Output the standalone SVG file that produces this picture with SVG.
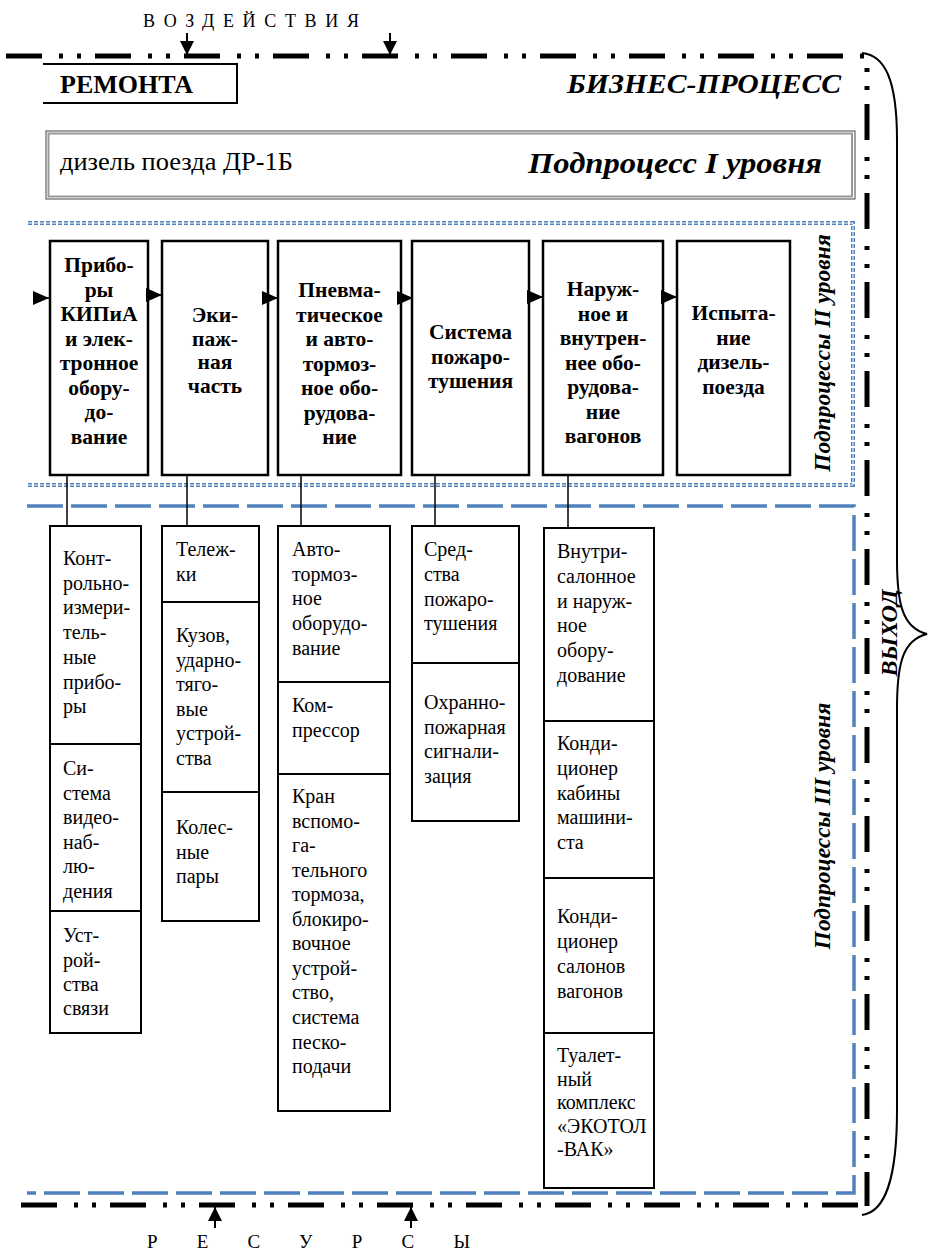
<svg xmlns="http://www.w3.org/2000/svg" width="932" height="1251" viewBox="0 0 932 1251">
<style>
.box2{fill:#fff;stroke:#000;stroke-width:2.5}
.box3{fill:#fff;stroke:#000;stroke-width:2}
.t2{font-family:"Liberation Serif","Times New Roman",serif;font-weight:bold;font-size:21.5px;text-anchor:middle;fill:#000}
.t3{font-family:"Liberation Serif","Times New Roman",serif;font-size:20px;fill:#000}
.bi{font-family:"Liberation Serif","Times New Roman",serif;font-weight:bold;font-style:italic;fill:#000}
.reg{font-family:"Liberation Serif","Times New Roman",serif;fill:#000}
.conn{stroke:#000;stroke-width:1.5;fill:none}
.arr{stroke:#000;stroke-width:2;fill:none}
.border{fill:none;stroke:#000;stroke-width:5;stroke-dasharray:36 17 4 14 4 14}
.blue3{fill:none;stroke:#4f81bd;stroke-width:3.5;stroke-dasharray:36 8}
.blue2{fill:none;stroke:#4f81bd;stroke-width:4;stroke-dasharray:4 2}
.blue2i{fill:none;stroke:#fff;stroke-width:1}
</style>
<defs>
<marker id="tri" markerWidth="16" markerHeight="14" refX="16" refY="7" orient="auto" markerUnits="userSpaceOnUse"><path d="M0,0 L16,7 L0,14 Z" fill="#000"/></marker>
<marker id="ah" markerWidth="14" markerHeight="14" refX="14" refY="7" orient="auto" markerUnits="userSpaceOnUse"><path d="M0,0 L14,7 L0,14 Z" fill="#000"/></marker>
</defs>
<rect width="932" height="1251" fill="#fff"/>

<g id="frame">
<path class="border" d="M6,56 H866"/>
<path class="border" style="stroke-dashoffset:41" d="M867,56 V1206"/>
<path class="border" d="M21,1205 H858"/>
<path d="M862,53 C885,55 897,80 897,140 L897,560 C897,605 903,628 927,634 C903,640 897,663 897,708 L897,1110 C897,1180 885,1212 862,1215" fill="none" stroke="#000" stroke-width="2"/>
</g>

<g id="level2-frame">
<path class="blue2" d="M28,223 H853 V485 H28"/>
<path class="blue2i" d="M28,223 H853 V485 H28"/>
</g>
<g id="level3-frame">
<path class="blue3" d="M27,506 H854 V1193 H27"/>
</g>

<g id="remonta">
<path d="M43,64 H237 V103 H43" fill="none" stroke="#000" stroke-width="2"/>
<text class="reg" x="60" y="93" font-size="26" font-weight="bold">РЕМОНТА</text>
</g>
<text class="bi" x="567" y="93" font-size="28" textLength="274" lengthAdjust="spacingAndGlyphs">БИЗНЕС-ПРОЦЕСС</text>

<g id="level1">
<rect x="46" y="131" width="809" height="68" fill="#fff" stroke="#444" stroke-width="1"/>
<rect x="48.5" y="133.5" width="803.5" height="63" fill="none" stroke="#999" stroke-width="2"/>
<text class="reg" x="60" y="170" font-size="25" textLength="233" lengthAdjust="spacingAndGlyphs">дизель поезда ДР-1Б</text>
<text class="bi" x="528" y="173" font-size="29" textLength="294" lengthAdjust="spacingAndGlyphs">Подпроцесс I уровня</text>
</g>

<text class="reg" x="143" y="27" font-size="18" textLength="216">ВОЗДЕЙСТВИЯ</text>
<text class="reg" x="147" y="1248" font-size="19" textLength="323">РЕСУРСЫ</text>

<text class="bi" font-size="23.5" text-anchor="middle" transform="translate(830,353) rotate(-90)">Подпроцессы II уровня</text>
<text class="bi" font-size="23.5" text-anchor="middle" transform="translate(830,826) rotate(-90)">Подпроцессы III уровня</text>
<text class="bi" font-size="24" text-anchor="middle" transform="translate(897,633) rotate(-90)">ВЫХОД</text>

<g id="n2-1"><rect class="box2" x="50" y="241" width="98" height="234"/>
<text class="t2"><tspan x="99" y="272">Прибо-</tspan><tspan x="99" y="296.5">ры</tspan><tspan x="99" y="321">КИПиА</tspan><tspan x="99" y="345.5">и элек-</tspan><tspan x="99" y="370">тронное</tspan><tspan x="99" y="394.5">обору-</tspan><tspan x="99" y="419">до-</tspan><tspan x="99" y="443.5">вание</tspan></text></g>
<g id="n2-2"><rect class="box2" x="162" y="241" width="106" height="234"/>
<text class="t2"><tspan x="215" y="322">Эки-</tspan><tspan x="215" y="345.5">паж-</tspan><tspan x="215" y="369">ная</tspan><tspan x="215" y="393">часть</tspan></text></g>
<g id="n2-3"><rect class="box2" x="278" y="241" width="123" height="234"/>
<text class="t2"><tspan x="339.5" y="297">Пневма-</tspan><tspan x="339.5" y="321.5">тическое</tspan><tspan x="339.5" y="346">и авто-</tspan><tspan x="339.5" y="370.5">тормоз-</tspan><tspan x="339.5" y="395">ное обо-</tspan><tspan x="339.5" y="419.5">рудова-</tspan><tspan x="339.5" y="444">ние</tspan></text></g>
<g id="n2-4"><rect class="box2" x="412" y="241" width="117" height="234"/>
<text class="t2"><tspan x="470.5" y="339">Система</tspan><tspan x="470.5" y="363.5">пожаро-</tspan><tspan x="470.5" y="388">тушения</tspan></text></g>
<g id="n2-5"><rect class="box2" x="543" y="241" width="120" height="234"/>
<text class="t2"><tspan x="603" y="296">Наруж-</tspan><tspan x="603" y="320.5">ное и</tspan><tspan x="603" y="345">внутрен-</tspan><tspan x="603" y="369.5">нее обо-</tspan><tspan x="603" y="394">рудова-</tspan><tspan x="603" y="418.5">ние</tspan><tspan x="603" y="443">вагонов</tspan></text></g>
<g id="n2-6"><rect class="box2" x="677" y="241" width="113" height="234"/>
<text class="t2"><tspan x="733.5" y="320">Испыта-</tspan><tspan x="733.5" y="344.5">ние</tspan><tspan x="733.5" y="369">дизель-</tspan><tspan x="733.5" y="393.5">поезда</tspan></text></g>

<g id="connectors">
<path class="arr" d="M187,33 V55" marker-end="url(#ah)"/>
<path class="arr" d="M390,33 V55" marker-end="url(#ah)"/>
<path class="arr" d="M215,1228 V1207" marker-end="url(#ah)"/>
<path class="arr" d="M411,1228 V1207" marker-end="url(#ah)"/>
<path class="conn" d="M33,298 H49" marker-end="url(#tri)"/>
<path class="conn" d="M147,295 H162" marker-end="url(#tri)"/>
<path class="conn" d="M263,298 H278" marker-end="url(#tri)"/>
<path class="conn" d="M398,298 H413" marker-end="url(#tri)"/>
<path class="conn" d="M528,297 H543" marker-end="url(#tri)"/>
<path class="conn" d="M661,297 H677" marker-end="url(#tri)"/>
<path class="conn" d="M67,476 V526"/>
<path class="conn" d="M187,476 V526"/>
<path class="conn" d="M301,476 V526"/>
<path class="conn" d="M435,476 V526"/>
<path class="conn" d="M568,476 V528"/>
</g>

<g id="n3-1a"><rect class="box3" x="50" y="526" width="91" height="218"/>
<text class="t3"><tspan x="63" y="565">Конт-</tspan><tspan x="63" y="589.7">рольно-</tspan><tspan x="63" y="614.4">измери-</tspan><tspan x="63" y="639">тель-</tspan><tspan x="63" y="663.8">ные</tspan><tspan x="63" y="688.5">прибо-</tspan><tspan x="63" y="713">ры</tspan></text></g>
<g id="n3-1b"><rect class="box3" x="50" y="744" width="91" height="167"/>
<text class="t3"><tspan x="63" y="775">Си-</tspan><tspan x="63" y="799.5">стема</tspan><tspan x="63" y="824">видео-</tspan><tspan x="63" y="848.5">наб-</tspan><tspan x="63" y="873">лю-</tspan><tspan x="63" y="897.5">дения</tspan></text></g>
<g id="n3-1c"><rect class="box3" x="50" y="911" width="91" height="122"/>
<text class="t3"><tspan x="63" y="942">Уст-</tspan><tspan x="63" y="966.5">рой-</tspan><tspan x="63" y="991">ства</tspan><tspan x="63" y="1015">связи</tspan></text></g>

<g id="n3-2a"><rect class="box3" x="162" y="526" width="97" height="76"/>
<text class="t3"><tspan x="176" y="556">Тележ-</tspan><tspan x="176" y="581">ки</tspan></text></g>
<g id="n3-2b"><rect class="box3" x="162" y="602" width="97" height="190"/>
<text class="t3"><tspan x="176" y="642">Кузов,</tspan><tspan x="176" y="666.5">ударно-</tspan><tspan x="176" y="691">тяго-</tspan><tspan x="176" y="715.5">вые</tspan><tspan x="176" y="740">устрой-</tspan><tspan x="176" y="764.5">ства</tspan></text></g>
<g id="n3-2c"><rect class="box3" x="162" y="792" width="97" height="129"/>
<text class="t3"><tspan x="176" y="834">Колес-</tspan><tspan x="176" y="858.5">ные</tspan><tspan x="176" y="883">пары</tspan></text></g>

<g id="n3-3a"><rect class="box3" x="278" y="526" width="112" height="156"/>
<text class="t3"><tspan x="292" y="556">Авто-</tspan><tspan x="292" y="580.7">тормоз-</tspan><tspan x="292" y="605.4">ное</tspan><tspan x="292" y="630.1">оборудо-</tspan><tspan x="292" y="655">вание</tspan></text></g>
<g id="n3-3b"><rect class="box3" x="278" y="682" width="112" height="92"/>
<text class="t3"><tspan x="292" y="712">Ком-</tspan><tspan x="292" y="737">прессор</tspan></text></g>
<g id="n3-3c"><rect class="box3" x="278" y="774" width="112" height="337"/>
<text class="t3"><tspan x="292" y="803">Кран</tspan><tspan x="292" y="827.5">вспомо-</tspan><tspan x="292" y="852">га-</tspan><tspan x="292" y="876.6">тельного</tspan><tspan x="292" y="901.2">тормоза,</tspan><tspan x="292" y="925.8">блокиро-</tspan><tspan x="292" y="950.3">вочное</tspan><tspan x="292" y="974.9">устрой-</tspan><tspan x="292" y="999.4">ство,</tspan><tspan x="292" y="1024">система</tspan><tspan x="292" y="1048.5">песко-</tspan><tspan x="292" y="1073">подачи</tspan></text></g>

<g id="n3-4a"><rect class="box3" x="412" y="526" width="107" height="137"/>
<text class="t3"><tspan x="424" y="556">Сред-</tspan><tspan x="424" y="581">ства</tspan><tspan x="424" y="605.5">пожаро-</tspan><tspan x="424" y="630">тушения</tspan></text></g>
<g id="n3-4b"><rect class="box3" x="412" y="663" width="107" height="158"/>
<text class="t3"><tspan x="424" y="709">Охранно-</tspan><tspan x="424" y="733.5">пожарная</tspan><tspan x="424" y="758">сигнали-</tspan><tspan x="424" y="782.5">зация</tspan></text></g>

<g id="n3-5a"><rect class="box3" x="544" y="528" width="110" height="193"/>
<text class="t3"><tspan x="557" y="558">Внутри-</tspan><tspan x="557" y="582.8">салонное</tspan><tspan x="557" y="607.6">и наруж-</tspan><tspan x="557" y="632.4">ное</tspan><tspan x="557" y="657.2">обору-</tspan><tspan x="557" y="682">дование</tspan></text></g>
<g id="n3-5b"><rect class="box3" x="544" y="721" width="110" height="157"/>
<text class="t3"><tspan x="557" y="750">Конди-</tspan><tspan x="557" y="774.8">ционер</tspan><tspan x="557" y="799.6">кабины</tspan><tspan x="557" y="824.4">машини-</tspan><tspan x="557" y="849">ста</tspan></text></g>
<g id="n3-5c"><rect class="box3" x="544" y="878" width="110" height="155"/>
<text class="t3"><tspan x="557" y="923">Конди-</tspan><tspan x="557" y="948">ционер</tspan><tspan x="557" y="973">салонов</tspan><tspan x="557" y="998">вагонов</tspan></text></g>
<g id="n3-5d"><rect class="box3" x="544" y="1033" width="110" height="155"/>
<text class="t3"><tspan x="557" y="1062">Туалет-</tspan><tspan x="557" y="1085.5">ный</tspan><tspan x="557" y="1109">комплекс</tspan><tspan x="557" y="1132.5">«ЭКОТОЛ</tspan><tspan x="557" y="1156">-ВАК»</tspan></text></g>
</svg>
